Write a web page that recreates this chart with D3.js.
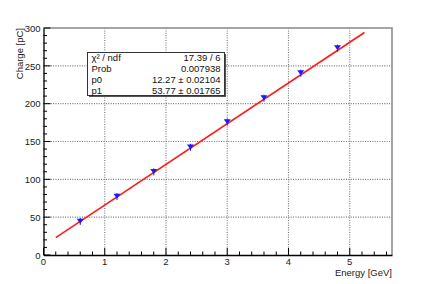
<!DOCTYPE html>
<html>
<head>
<meta charset="utf-8">
<script src="https://cdn.jsdelivr.net/npm/d3@7"></script>
<style>
  body { margin: 0; background: #fff; }
  svg text { font-family: "Liberation Sans", Arial, sans-serif; }
</style>
</head>
<body>
<svg id="chart" width="436" height="284"></svg>
<script>
// measured points
var energy = [0.6, 1.2, 1.8, 2.4, 3.0, 3.6, 4.2, 4.8];
var charge = [45, 78, 110.5, 143, 176.5, 208, 241, 274];

// fit result (pol1)
var fitRange = [0.2, 5.24];
var fitPars = [12.27, 53.77];

var statNames = ["χ² / ndf", "Prob", "p0", "p1"];
var statValues = ["17.39 / 6", "0.007938", "12.27 ± 0.02104", "53.77 ± 0.01765"];

var xTicks = [0, 1, 2, 3, 4, 5];
var yTicks = [0, 50, 100, 150, 200, 250, 300];

var frame = {left: 43.5, right: 392, top: 28, bottom: 255};

var svg = d3.select("#chart");

var x = d3.scaleLinear().domain([0, 5.69]).range([frame.left, frame.right]);
var y = d3.scaleLinear().domain([0, 300]).range([frame.bottom, frame.top]);

// grid
var grid = svg.append("g");
grid.selectAll("line.gx")
	.data(xTicks.slice(1))
	.enter().append("line")
	.attr("x1", function(d){ return x(d); }).attr("x2", function(d){ return x(d); })
	.attr("y1", frame.top).attr("y2", frame.bottom)
	.attr("stroke", "#777").attr("stroke-width", 1.1).attr("stroke-dasharray", "1,1.4");
grid.selectAll("line.gy")
	.data(yTicks.slice(1, -1))
	.enter().append("line")
	.attr("y1", function(d){ return y(d); }).attr("y2", function(d){ return y(d); })
	.attr("x1", frame.left).attr("x2", frame.right)
	.attr("stroke", "#777").attr("stroke-width", 1.1).attr("stroke-dasharray", "1,1.4");

// frame (top/right grey)
svg.append("path")
	.attr("d", "M" + frame.left + "," + frame.top + "H" + frame.right + "V" + frame.bottom)
	.attr("fill", "none").attr("stroke", "#888").attr("stroke-width", 1.5);

// axes
var gx = svg.append("g").attr("transform", "translate(0," + frame.bottom + ")");
gx.call(d3.axisBottom(x).tickValues([]).tickSizeOuter(0));
gx.select(".domain").attr("stroke", "#000").attr("stroke-width", 1.3);
gx.selectAll("line.minor")
	.data(d3.range(0, 28.5, 1).map(function(i){ return i * 0.2; }))
	.enter().append("line")
	.attr("x1", function(d){ return x(d); }).attr("x2", function(d){ return x(d); })
	.attr("y1", 0).attr("y2", function(d, i){ return i % 5 == 0 ? -7 : -3.5; })
	.attr("stroke", "#000");
gx.selectAll("text")
	.data(xTicks)
	.enter().append("text")
	.attr("x", function(d){ return x(d); })
	.attr("y", 9.5)
	.attr("text-anchor", "middle")
	.attr("font-size", "9.5px")
	.attr("fill", "#222")
	.text(function(d){ return d; });

var gy = svg.append("g").attr("transform", "translate(" + frame.left + ",0)");
gy.call(d3.axisLeft(y).tickValues([]).tickSizeOuter(0));
gy.select(".domain").attr("stroke", "#000").attr("stroke-width", 1.3);
gy.selectAll("line.minor")
	.data(d3.range(0, 31, 1).map(function(i){ return i * 10; }))
	.enter().append("line")
	.attr("y1", function(d){ return y(d); }).attr("y2", function(d){ return y(d); })
	.attr("x1", 0).attr("x2", function(d, i){ return i % 5 == 0 ? 7 : 3.5; })
	.attr("stroke", "#000");
gy.selectAll("text")
	.data(yTicks)
	.enter().append("text")
	.attr("x", -3)
	.attr("y", function(d){ return y(d) + 3.8; })
	.attr("text-anchor", "end")
	.attr("font-size", "9.5px")
	.attr("fill", "#222")
	.text(function(d){ return d; });

// axis titles
svg.append("text")
	.attr("x", frame.right).attr("y", 275.5)
	.attr("text-anchor", "end").attr("font-size", "9.5px").attr("fill", "#222")
	.text("Energy [GeV]");
svg.append("text")
	.attr("transform", "translate(22.5," + frame.top + ") rotate(-90)")
	.attr("text-anchor", "end").attr("font-size", "9.5px").attr("fill", "#222")
	.text("Charge [pC]");

// fit line
svg.append("line")
	.attr("x1", x(fitRange[0])).attr("y1", y(fitPars[0] + fitPars[1] * fitRange[0]))
	.attr("x2", x(fitRange[1])).attr("y2", y(fitPars[0] + fitPars[1] * fitRange[1]))
	.attr("stroke", "#ff1a1a").attr("stroke-width", 1.6);

// markers
var pts = energy.map(function(e, i){ return {e: e, q: charge[i]}; });
svg.selectAll("line.err")
	.data(pts)
	.enter().append("line")
	.attr("x1", function(d){ return x(d.e); }).attr("x2", function(d){ return x(d.e); })
	.attr("y1", function(d){ return y(d.q) - 3; }).attr("y2", function(d){ return y(d.q) + 4; })
	.attr("stroke", "#1a1aff").attr("stroke-width", 1);
svg.selectAll("path.pt")
	.data(pts)
	.enter().append("path")
	.attr("transform", function(d){ return "translate(" + x(d.e) + "," + y(d.q) + ")"; })
	.attr("d", "M-3.5,-2.3L3.5,-2.3L0,2.7Z")
	.attr("fill", "#1a1aff");

// stats box
var box = {x: 87.5, y: 52.5, w: 137, h: 43};
svg.append("rect")
	.attr("x", box.x + 1.5).attr("y", box.y + 1.5).attr("width", box.w).attr("height", box.h)
	.attr("fill", "#555");
svg.append("rect")
	.attr("x", box.x).attr("y", box.y).attr("width", box.w).attr("height", box.h)
	.attr("fill", "#fff").attr("stroke", "#333").attr("stroke-width", 1);
var rowH = box.h / 4;
svg.selectAll("text.sn")
	.data(statNames)
	.enter().append("text")
	.attr("x", box.x + 4)
	.attr("y", function(d, i){ return box.y + rowH * i + rowH / 2 + 3.5; })
	.attr("font-size", "9.5px").attr("fill", "#111")
	.text(function(d){ return d; });
svg.selectAll("text.sv")
	.data(statValues)
	.enter().append("text")
	.attr("x", box.x + box.w - 4)
	.attr("y", function(d, i){ return box.y + rowH * i + rowH / 2 + 3.5; })
	.attr("text-anchor", "end")
	.attr("font-size", "9.5px").attr("fill", "#111")
	.text(function(d){ return d; });
</script>
</body>
</html>
